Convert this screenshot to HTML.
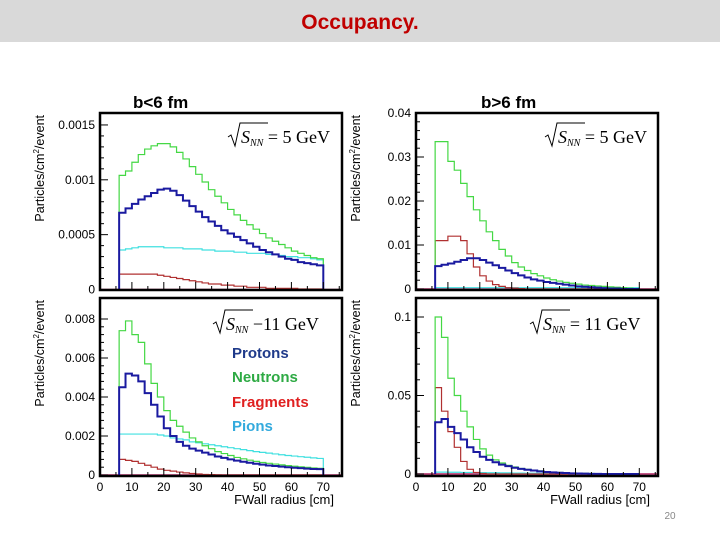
<!DOCTYPE html>
<html><head><meta charset="utf-8"><style>
body{margin:0;background:#fff;width:720px;height:540px;overflow:hidden;font-family:"Liberation Sans",sans-serif}
svg{position:absolute;left:0;top:0}
</style></head><body>
<svg width="720" height="540" xmlns="http://www.w3.org/2000/svg">
<rect x="0" y="0" width="720" height="42" fill="#d9d9d9"/>
<text x="360" y="29" text-anchor="middle" font-size="21" font-weight="bold" fill="#c00000">Occupancy.</text>
<text x="670" y="519" text-anchor="middle" font-size="10" fill="#888">20</text>
<g id="charts"></g>
<g font-size="15" font-weight="bold">
<text x="232" y="358" fill="#1f3a8a">Protons</text>
<text x="232" y="382" fill="#2eaa44">Neutrons</text>
<text x="232" y="407" fill="#e02020">Fragments</text>
<text x="232" y="431" fill="#33aadd">Pions</text>
</g>
</svg>
<script>
// bin centres (cm), 2 cm bins from 6 to 70
const binCenters=[7,9,11,13,15,17,19,21,23,25,27,29,31,33,35,37,39,41,43,45,47,49,51,53,55,57,59,61,63,65,67,69];
// Panel TL (units 1e-4)
const tlGreen=[10.4,10.8,11.6,12.3,12.8,13.1,13.3,13.3,13.0,12.5,11.9,11.2,10.5,9.8,9.1,8.5,7.9,7.3,6.8,6.3,5.9,5.5,5.1,4.7,4.4,4.1,3.8,3.5,3.3,3.1,2.9,2.8];
const tlBlue=[7.0,7.4,7.8,8.2,8.5,8.8,9.1,9.2,9.0,8.6,8.1,7.6,7.1,6.6,6.2,5.8,5.4,5.1,4.8,4.5,4.2,3.9,3.6,3.4,3.2,3.0,2.8,2.7,2.5,2.4,2.3,2.2];
const tlCyan=[3.6,3.7,3.8,3.9,3.9,3.9,3.9,3.8,3.8,3.8,3.7,3.7,3.7,3.6,3.6,3.5,3.5,3.5,3.4,3.4,3.3,3.3,3.3,3.2,3.2,3.1,3.0,3.0,2.9,2.9,2.8,2.7];
const tlRed=[1.4,1.4,1.4,1.4,1.4,1.4,1.3,1.2,1.1,1.0,0.9,0.8,0.7,0.6,0.5,0.5,0.4,0.4,0.3,0.3,0.2,0.2,0.2,0.1,0.1,0.1,0.1,0.1,0.05,0.05,0.05,0.05];
// Panel TR (units 1e-3)
const trGreen=[33.5,33.5,29,27,24,21,18,15.5,13,11,9,7.5,6,5,4.2,3.5,3.0,2.5,2.1,1.8,1.5,1.3,1.1,0.9,0.8,0.7,0.6,0.5,0.4,0.3,0.2,0.1];
const trBlue=[5.2,5.5,5.8,6.2,6.6,7.0,7.0,6.6,6.0,5.4,4.8,4.2,3.6,3.1,2.6,2.2,1.9,1.6,1.4,1.2,1.0,0.8,0.6,0.5,0.4,0.3,0.2,0.1,0.1,0,0,0];
const trCyan=[0.3,0.3,0.3,0.3,0.3,0.3,0.3,0.3,0.3,0.3,0.3,0.3,0.3,0.3,0.3,0.3,0.3,0.3,0.3,0.3,0.3,0.3,0.3,0.3,0.3,0.3,0.3,0.3,0.3,0.3,0.3,0.3];
const trRed=[11,11,12,12,11,8,5,3,1.8,1,0.6,0.3,0.2,0.1,0,0,0,0,0,0,0,0,0,0,0,0,0,0,0,0,0,0];
// Panel BL (units 1e-4)
const blGreen=[74,79,72,68,57,47,40,33,28,25,22,19,17,15,13.5,12,11,10,9,8.3,7.6,7,6.4,6,5.6,5.2,4.8,4.5,4.2,3.9,3.6,3.4];
const blBlue=[45,52,51,48,42,36,30,24,20,17,15,13.5,12.5,11.5,10.5,9.5,8.8,8,7.4,6.8,6.3,5.8,5.3,4.9,4.6,4.3,4,3.7,3.5,3.3,3.1,3];
const blCyan=[21,21,21,21,21,21,20.5,20,19,18.5,18,17,16.5,16,15.5,15,14.5,14,13.5,13,12.5,12,11.6,11.2,10.8,10.4,10,9.7,9.4,9.1,8.8,8.5];
const blRed=[8,7.5,7,6,5,4,3,2.4,2,1.5,1.1,0.8,0.5,0.3,0.2,0.1,0,0,0,0,0,0,0,0,0,0,0,0,0,0,0,0];
// Panel BR (units 1e-3)
const brGreen=[100,87,61,50,40,30,22,16,12,9,7,5.5,4.5,3.5,3,2.5,2,1.5,1.2,1,0.8,0.6,0.5,0.4,0.3,0.2,0.2,0.1,0.1,0,0,0];
const brBlue=[33,35,30,26,22,17,14,11,9,7.5,6,5,4,3.3,2.7,2.2,1.7,1.3,1,0.8,0.6,0.4,0.3,0.2,0.1,0.1,0,0,0,0,0,0];
const brCyan=[1.2,1.2,1.1,1.1,1,1,0.9,0.9,0.8,0.8,0.7,0.7,0.6,0.6,0.5,0.5,0.4,0.4,0.3,0.3,0.3,0.2,0.2,0.2,0.2,0.1,0.1,0.1,0.1,0.1,0.1,0.1];
const brRed=[55,40,27,17,8,3,1,0.3,0,0,0,0,0,0,0,0,0,0,0,0,0,0,0,0,0,0,0,0,0,0,0,0];
// tick values/labels
const tlYTicks=[0,0.0005,0.001,0.0015];const tlYLabels=["0","0.0005","0.001","0.0015"];
const trYTicks=[0,0.01,0.02,0.03,0.04];const trYLabels=["0","0.01","0.02","0.03","0.04"];
const blYTicks=[0,0.002,0.004,0.006,0.008];const blYLabels=["0","0.002","0.004","0.006","0.008"];
const brYTicks=[0,0.05,0.1];const brYLabels=["0","0.05","0.1"];
const xTicks=[0,10,20,30,40,50,60,70];const xLabels=["0","10","20","30","40","50","60","70"];

const NS="http://www.w3.org/2000/svg";
const root=document.getElementById('charts');
function mk(tag,at,parent){const e=document.createElementNS(NS,tag);for(const k in at)e.setAttribute(k,at[k]);(parent||root).appendChild(e);return e;}
const binW=2;
function panel(p){
  const g=mk('g',{});
  
  
  const xs=x=>p.l+x*3.19;
  const ys=v=>p.base-v*p.ppu;
  mk('rect',{x:p.l,y:p.t,width:p.r-p.l,height:p.b-p.t,fill:'#fff'},g);
  mk('line',{x1:p.l,x2:p.r,y1:p.base,y2:p.base,stroke:'#b02060','stroke-width':1.5},g);
  const series=[[p.cyan,'#40e0e0',1.2,'pions'],[p.red,'#b03030',1.2,'fragments'],[p.green,'#44d844',1.2,'neutrons'],[p.blue,'#1a1aa0',2,'protons']];
  for(const [arr,col,w,nm] of series){
    let d='M'+xs(binCenters[0]-binW/2)+','+ys(0);
    arr.forEach((v,i)=>{const a=xs(binCenters[i]-binW/2),b=xs(binCenters[i]+binW/2),y=ys(v*p.unit);d+=' L'+a+','+y+' L'+b+','+y;});
    d+=' L'+xs(binCenters[binCenters.length-1]+binW/2)+','+ys(0);
    const path=mk('path',{d:d,fill:'none',stroke:col,'stroke-width':w},g);
    
    
  }
  p.yt.forEach((v,i)=>{const y=ys(v);
    mk('line',{x1:p.l,x2:p.l+8,y1:y,y2:y,stroke:'#000','stroke-width':1},g);
    const t=mk('text',{x:p.l-5,y:y+4,'text-anchor':'end','font-size':12,fill:'#000'},g);t.textContent=p.yl[i];
    
    
    if(i<p.yt.length-1){const step=(p.yt[1]-p.yt[0])/5;for(let k=1;k<5;k++){const yy=ys(v+k*step);if(yy>p.t)mk('line',{x1:p.l,x2:p.l+4,y1:yy,y2:yy,stroke:'#000'},g);}}
  });
  for(let x=0;x<=75;x+=5){const px=xs(x);mk('line',{x1:px,x2:px,y1:p.b,y2:p.b-(x%10?4:8),stroke:'#000'},g);}
  if(p.xlab){xTicks.forEach((x,i)=>{const t=mk('text',{x:xs(x),y:p.b+15,'text-anchor':'middle','font-size':12},g);t.textContent=xLabels[i];
    
    });
    const xt=mk('text',{x:p.r-8,y:p.b+28,'text-anchor':'end','font-size':13},g);xt.textContent='FWall radius [cm]';
    
    }
  const yt=mk('text',{transform:'translate('+(p.l-56)+','+(p.t+2)+') rotate(-90)','text-anchor':'end','font-size':12.5},g);
  yt.innerHTML='Particles/cm<tspan font-size="8" dy="-5">2</tspan><tspan dy="5">/event</tspan>';
  
  
  mk('rect',{x:p.l,y:p.t,width:p.r-p.l,height:p.b-p.t,fill:'none',stroke:'#000','stroke-width':2.5},g);
  if(p.title){const tt=mk('text',{x:p.titleX,y:108,'font-size':17,'font-weight':'bold'},g);tt.textContent=p.title;
    
    }
  const ex=p.ex,ey=p.ey;
  const lab=mk('g',{},g);
  
  
  mk('path',{d:`M${ex},${ey-6} L${ex+3},${ey-8} L${ex+7},${ey+3} L${ex+12},${ey-20} L${ex+40},${ey-20}`,fill:'none',stroke:'#000','stroke-width':1},lab);
  const st=mk('text',{x:ex+13,y:ey,'font-family':'Liberation Serif, serif','font-size':18},lab);
  st.innerHTML='<tspan font-style="italic">S</tspan><tspan font-style="italic" font-size="10" dy="3">NN</tspan><tspan dy="-3"> '+p.elab+'</tspan>';
}
panel({name:'panel-b-lt-6-5gev',l:100,r:342,t:113,b:290,base:289.5,ppu:109700,unit:1e-4,green:tlGreen,blue:tlBlue,cyan:tlCyan,red:tlRed,yt:tlYTicks,yl:tlYLabels,title:'b<6 fm',titleX:133,ex:228,ey:143,elab:'= 5 GeV'});
panel({name:'panel-b-gt-6-5gev',l:416,r:658,t:113,b:290,base:289,ppu:4400,unit:1e-3,green:trGreen,blue:trBlue,cyan:trCyan,red:trRed,yt:trYTicks,yl:trYLabels,title:'b>6 fm',titleX:481,ex:545,ey:143,elab:'= 5 GeV'});
panel({name:'panel-b-lt-6-11gev',l:100,r:342,t:298,b:476,base:475,ppu:19500,unit:1e-4,green:blGreen,blue:blBlue,cyan:blCyan,red:blRed,yt:blYTicks,yl:blYLabels,xlab:true,ex:213,ey:330,elab:'−11 GeV'});
panel({name:'panel-b-gt-6-11gev',l:416,r:658,t:298,b:476,base:474,ppu:1570,unit:1e-3,green:brGreen,blue:brBlue,cyan:brCyan,red:brRed,yt:brYTicks,yl:brYLabels,xlab:true,ex:530,ey:330,elab:'= 11 GeV'});
</script>
</body></html>
